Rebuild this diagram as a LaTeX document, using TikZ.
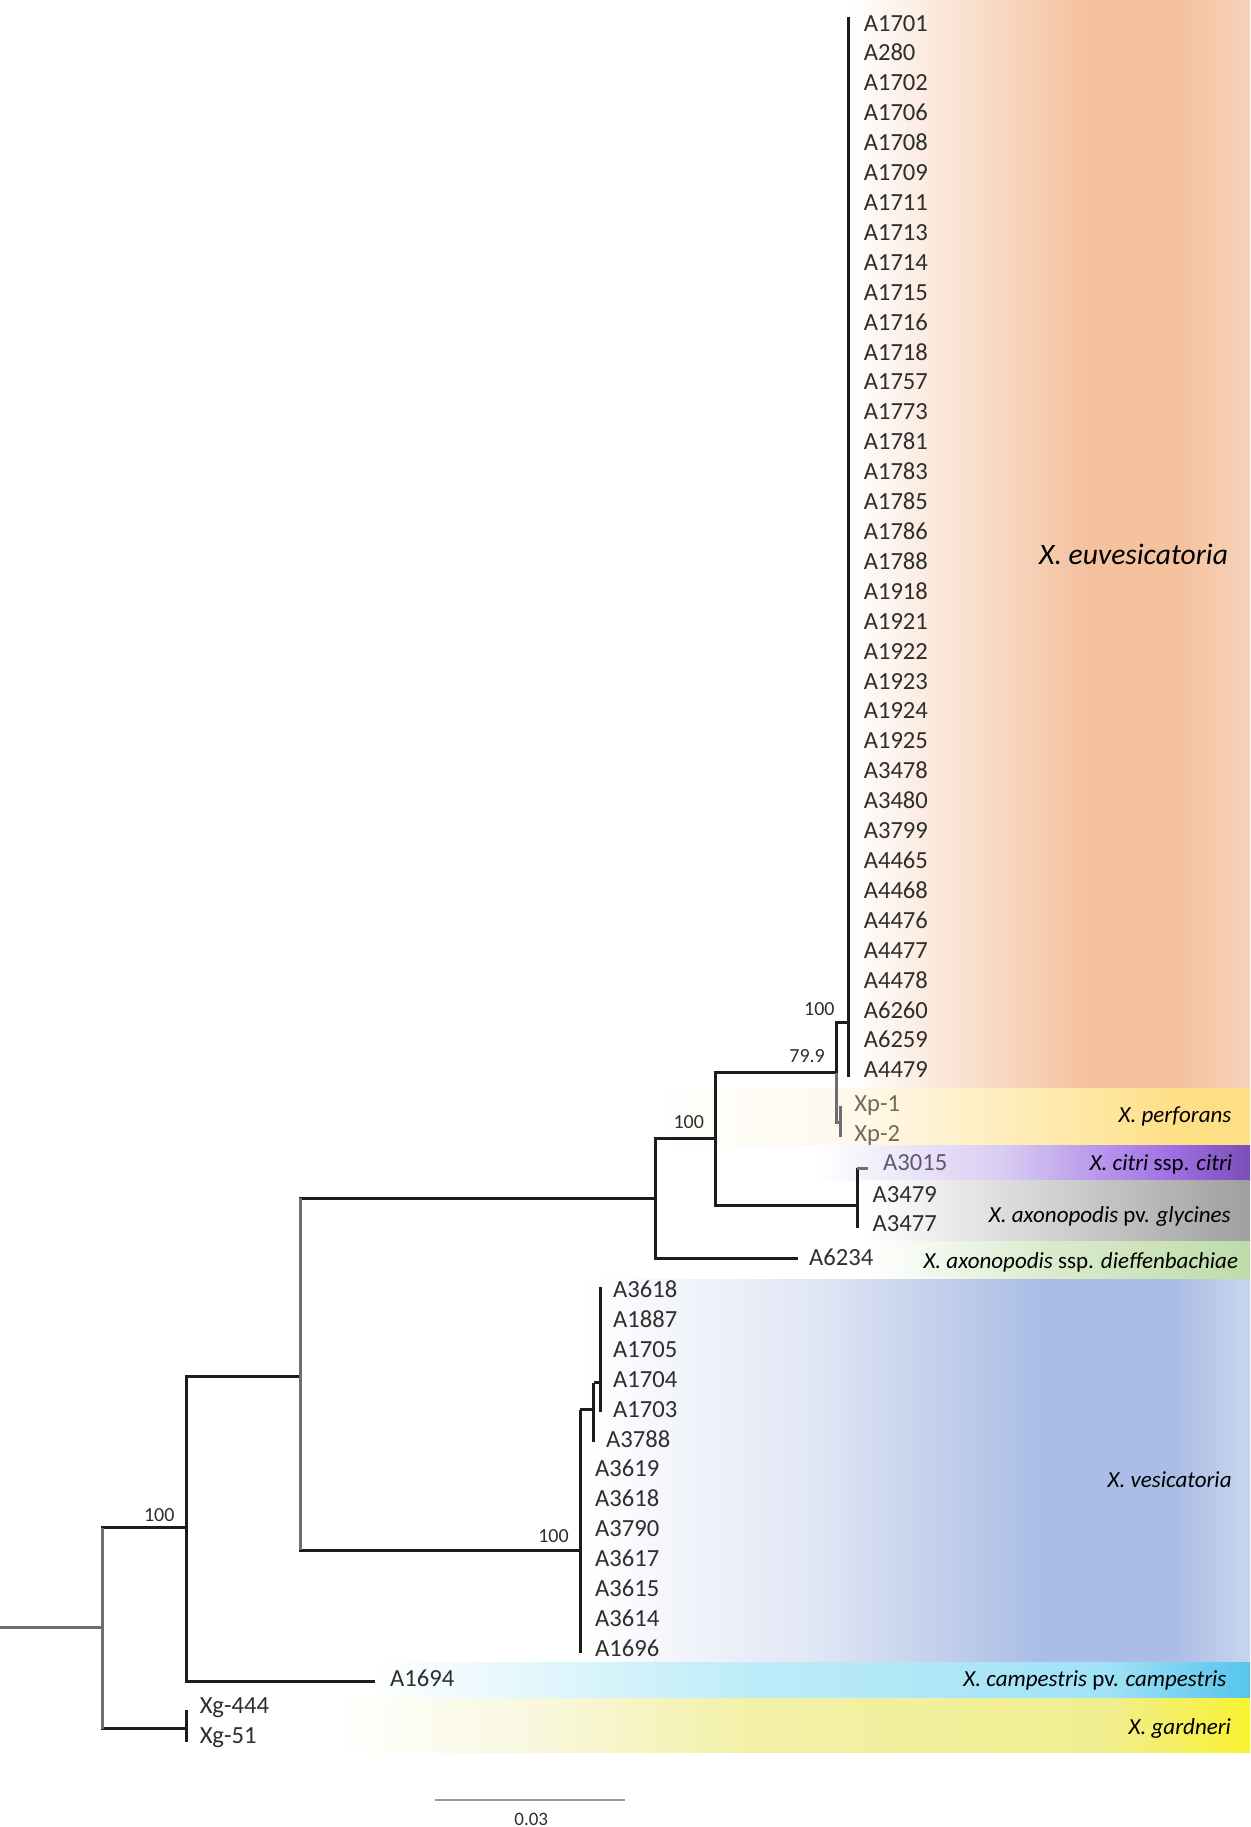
\documentclass[tikz,border=0pt]{standalone}
\usepackage{fontspec}
\setmainfont{Carlito}
\definecolor{euA}{HTML}{F5C2A0}
\definecolor{euB}{HTML}{F7D3BB}
\definecolor{pfA}{HTML}{FFF9EC}
\definecolor{pfB}{HTML}{FFDF86}
\definecolor{ctA}{HTML}{D8CCF2}
\definecolor{ctB}{HTML}{A172E6}
\definecolor{ctC}{HTML}{7B4DB9}
\definecolor{glA}{HTML}{D2D2D2}
\definecolor{glB}{HTML}{9F9F9F}
\definecolor{dfA}{HTML}{DAEBCD}
\definecolor{dfB}{HTML}{BEDCA8}
\definecolor{vsA}{HTML}{E0E6F4}
\definecolor{vsB}{HTML}{AABDE5}
\definecolor{vsC}{HTML}{C7D5EF}
\definecolor{cpA}{HTML}{BDECF9}
\definecolor{cpB}{HTML}{A0E2F6}
\definecolor{cpC}{HTML}{56C4EC}
\definecolor{gd0}{HTML}{F9F8E0}
\definecolor{gdA}{HTML}{F3F1A8}
\definecolor{gdB}{HTML}{F1EE90}
\definecolor{gdC}{HTML}{F8F230}
\definecolor{treeK}{HTML}{1C1C1C}
\definecolor{treeG}{HTML}{6E6E6E}
\definecolor{labK}{HTML}{2E2E2E}
\definecolor{labXp}{HTML}{756A5A}
\definecolor{labCt}{HTML}{5E5870}
\definecolor{barG}{HTML}{9A9A9A}
\pgfdeclarehorizontalshading{shEu}{100bp}{color(0bp)=(white); color(25bp)=(white); color(54.2bp)=(euA); color(66.6bp)=(euA); color(75bp)=(euB); color(100bp)=(euB)}
\pgfdeclarehorizontalshading{shPf}{100bp}{color(0bp)=(white); color(25bp)=(white); color(41.5bp)=(pfA); color(69.2bp)=(pfB); color(75bp)=(pfB); color(100bp)=(pfB)}
\pgfdeclarehorizontalshading{shCt}{100bp}{color(0bp)=(white); color(25bp)=(white); color(46.5bp)=(ctA); color(65.3bp)=(ctB); color(75bp)=(ctC); color(100bp)=(ctC)}
\pgfdeclarehorizontalshading{shGl}{100bp}{color(0bp)=(white); color(25bp)=(white); color(49.1bp)=(glA); color(75bp)=(glB); color(100bp)=(glB)}
\pgfdeclarehorizontalshading{shDf}{100bp}{color(0bp)=(white); color(25bp)=(white); color(48.7bp)=(dfA); color(75bp)=(dfB); color(100bp)=(dfB)}
\pgfdeclarehorizontalshading{shVs}{100bp}{color(0bp)=(white); color(25bp)=(white); color(42.5bp)=(vsA); color(59.3bp)=(vsB); color(69.1bp)=(vsB); color(75bp)=(vsC); color(100bp)=(vsC)}
\pgfdeclarehorizontalshading{shCp}{100bp}{color(0bp)=(white); color(25bp)=(white); color(46.6bp)=(cpA); color(66.9bp)=(cpB); color(75bp)=(cpC); color(100bp)=(cpC)}
\pgfdeclarehorizontalshading{shGd}{100bp}{color(0bp)=(white); color(25bp)=(white); color(35.4bp)=(gd0); color(47.5bp)=(gdA); color(67.2bp)=(gdB); color(75bp)=(gdC); color(100bp)=(gdC)}
\tikzset{
  br/.style={line width=1.5pt, draw=treeK},
  brg/.style={line width=1.5pt, draw=treeG},
  leaf/.style={anchor=base west, inner sep=0pt, font=\fontsize{12.3}{14}\selectfont, text=labK},
  boot/.style={anchor=base east, inner sep=0pt, font=\fontsize{10}{12}\selectfont, text=labK},
  sp/.style={anchor=base east, inner sep=0pt, font=\fontsize{11.5}{13}\selectfont, text=black},
}
\begin{document}
\begin{tikzpicture}[x=0.58305pt, y=-0.58305pt]
\useasboundingbox (0,0) rectangle (1071.95,1566.76);
\fill[white] (0,0) rectangle (1071.95,1566.76);
% ---------- coloured bands
\shade[shading=shEu] (728,0) rectangle (1072,933.4);
\shade[shading=shPf] (560,933.4) rectangle (1072,982);
\shade[shading=shCt] (700,982) rectangle (1072,1012);
\shade[shading=shGl] (740,1012) rectangle (1072,1065);
\shade[shading=shDf] (745,1065) rectangle (1072,1096.3);
\shade[shading=shVs] (500,1097.3) rectangle (1072,1425.9);
\shade[shading=shCp] (318,1425.9) rectangle (1072,1455.3);
\shade[shading=shGd] (286,1456.5) rectangle (1072,1503);
% ---------- tree coordinates
\coordinate (r0) at (0,1395.5);
\coordinate (n1) at (87.5,1395.5);
\coordinate (n2) at (160,1310);
\coordinate (nXg) at (160,1482.5);
\coordinate (xgT) at (160,1466.5);
\coordinate (xgB) at (160,1494);
\coordinate (n3) at (257.5,1180);
\coordinate (tA1694) at (321.5,1442);
\coordinate (n4) at (562.5,1027.6);
\coordinate (nVes) at (497.5,1329.2);
\coordinate (vsT) at (497.5,1209);
\coordinate (vsB) at (497.5,1417.6);
\coordinate (nV2) at (509,1209);
\coordinate (v2T) at (509,1185.7);
\coordinate (v2B) at (509,1237);
\coordinate (nV3) at (515,1185.7);
\coordinate (v3T) at (515,1103.4);
\coordinate (v3B) at (515,1210.6);
\coordinate (n5) at (613.2,976.5);
\coordinate (tA6234) at (684,1078.8);
\coordinate (n6) at (717,920);
\coordinate (nEu) at (727.3,877);
\coordinate (euT) at (727.3,14.3);
\coordinate (euB) at (727.3,923.3);
\coordinate (nXp) at (720.6,963);
\coordinate (xpT) at (720.6,948.4);
\coordinate (xpB) at (720.6,974.7);
\coordinate (nCG) at (735,1034);
\coordinate (cgT) at (735,1002);
\coordinate (cgB) at (735,1053.3);
\coordinate (tA3015) at (744.5,1002);
\coordinate (sb1) at (373.3,1543.6);
\coordinate (sb2) at (536,1543.6);
% ---------- branches
\draw[brg] (r0) -- (n1);
\draw[br] (n1) |- (n2);
\draw[br] (n1) |- (nXg);
\draw[brg] (n1 |- n2) -- (n1 |- nXg);
\draw[br] (xgT) -- (xgB);
\draw[br] (n2) |- (n3);
\draw[br] (n2) |- (tA1694);
\draw[br] (n3) |- (n4);
\draw[br] (n3) |- (nVes);
\draw[brg] (n3) -- (n3 |- n4);
\draw[brg] (n3) -- (n3 |- nVes);
\draw[br] (vsT) -- (vsB);
\draw[br] (vsT) -- (nV2);
\draw[br] (v2T) -- (v2B);
\draw[br] (v2T) -- (nV3);
\draw[br] (v3T) -- (v3B);
\draw[br] (n4) |- (n5);
\draw[br] (n4) |- (tA6234);
\draw[br] (n5) |- (n6);
\draw[br] (n5) |- (nCG);
\draw[br] (cgT) -- (cgB);
\draw[brg] (cgT) -- (tA3015);
\draw[br] (n6) |- (nEu);
\draw[brg] (n6) |- (nXp);
\draw[br] (euT) -- (euB);
\draw[brg] (xpT) -- (xpB);
% ---------- leaf labels
\foreach \t [count=\i from 0] in {A1701,A280,A1702,A1706,A1708,A1709,A1711,A1713,A1714,A1715,A1716,A1718,A1757,A1773,A1781,A1783,A1785,A1786,A1788,A1918,A1921,A1922,A1923,A1924,A1925,A3478,A3480,A3799,A4465,A4468,A4476,A4477,A4478,A6260,A6259,A4479}
  \node[leaf] (eu\i) at (740.4,{19.8+25.65*\i+6.8}) {\t};
\node[leaf, text=labXp] (xp1) at (732.3,{946.7+6.8}) {Xp-1};
\node[leaf, text=labXp] (xp2) at (732.3,{971.8+6.8}) {Xp-2};
\node[leaf, text=labCt] (lA3015) at (757,{996.8+6.8}) {A3015};
\node[leaf] (lA3479) at (748,{1024.3+6.8}) {A3479};
\node[leaf] (lA3477) at (748,{1049.3+6.8}) {A3477};
\node[leaf] (lA6234) at (693.6,{1078.5+6.8}) {A6234};
\foreach \t [count=\i from 0] in {A3618,A1887,A1705,A1704,A1703}
  \node[leaf] (vt\i) at (525.5,{1105.7+25.67*\i+6.8}) {\t};
\node[leaf] (lA3788) at (519.5,{1234.1+6.8}) {A3788};
\foreach \t [count=\i from 6] in {A3619,A3618,A3790,A3617,A3615,A3614,A1696}
  \node[leaf] (vb\i) at (510,{1105.7+25.67*\i+6.8}) {\t};
\node[leaf] (lA1694) at (334.2,{1439.5+6.8}) {A1694};
\node[leaf] (lXg444) at (171,{1463+6.8}) {Xg-444};
\node[leaf] (lXg51) at (171,{1488.7+6.8}) {Xg-51};
% ---------- bootstrap values
\node[boot] (b1) at (716,{865.3+5.5}) {100};
\node[boot] (b2) at (707.7,{906+5.5}) {79.9};
\node[boot] (b3) at (604,{962.5+5.5}) {100};
\node[boot] (b4) at (488,{1317.2+5.5}) {100};
\node[boot] (b5) at (150,{1299.2+5.5}) {100};
% ---------- species labels
\node[sp, font=\fontsize{14.8}{17}\selectfont] (sEu) at (1053.4,{476+8.1}) {\textit{X. euvesicatoria}};
\node[sp] (sPf) at (1056.3,{956+6.3}) {\textit{X. perforans}};
\node[sp] (sCt) at (1057,{997.6+6.3}) {\textit{X. citri} ssp. \textit{citri}};
\node[sp] (sGl) at (1055.7,{1042+6.3}) {\textit{X. axonopodis} pv. \textit{glycines}};
\node[sp] (sDf) at (1062,{1081.9+6.3}) {\textit{X. axonopodis} ssp. \textit{dieffenbachiae}};
\node[sp] (sVs) at (1056.5,{1269.2+6.3}) {\textit{X. vesicatoria}};
\node[sp] (sCp) at (1052,{1440+6.3}) {\textit{X. campestris} pv. \textit{campestris}};
\node[sp] (sGd) at (1056,{1481+6.3}) {\textit{X. gardneri}};
% ---------- scale bar
\draw[line width=0.8pt, draw=barG] (sb1) -- (sb2);
\node[anchor=base, inner sep=0pt, font=\fontsize{9.5}{11}\selectfont, text=labK] (sbl) at (455.6,{1560.2+5}) {0.03};
\end{tikzpicture}
\end{document}
